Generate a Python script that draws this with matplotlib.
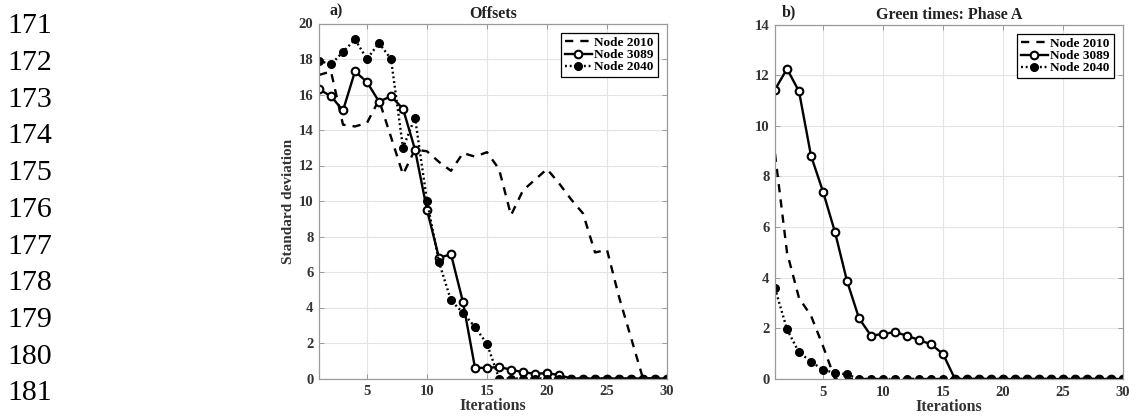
import matplotlib
matplotlib.use("Agg")
import matplotlib.pyplot as plt
import numpy as np

# ---------------- data ----------------
iterations = list(range(1, 31))

offsets_2010 = [17.1, 17.3, 14.3, 14.2, 14.4, 15.7, 13.6, 11.5, 12.9, 12.8,
                12.2, 11.7, 12.7, 12.5, 12.75, 11.8, 9.2, 10.6, 11.2, 11.8,
                11.0, 10.1, 9.3, 7.1, 7.25, 4.6, 2.3, 0, 0, 0]
offsets_3089 = [16.3, 15.9, 15.1, 17.3, 16.7, 15.6, 15.9, 15.2, 12.9, 9.5,
                6.8, 7.0, 4.3, 0.6, 0.6, 0.65, 0.5, 0.35, 0.27, 0.3,
                0.2, 0, 0, 0, 0, 0, 0, 0, 0, 0]
offsets_2040 = [17.9, 17.7, 18.4, 19.1, 18.0, 18.9, 18.0, 13.0, 14.7, 10.0,
                6.55, 4.4, 3.7, 2.9, 1.95, 0, 0, 0, 0, 0,
                0, 0, 0, 0, 0, 0, 0, 0, 0, 0]

green_2010 = [8.9, 5.0, 3.2, 2.5, 1.3, 0, 0, 0, 0, 0,
              0, 0, 0, 0, 0, 0, 0, 0, 0, 0,
              0, 0, 0, 0, 0, 0, 0, 0, 0, 0]
green_3089 = [11.43, 12.25, 11.36, 8.82, 7.4, 5.8, 3.87, 2.4, 1.71, 1.78,
              1.85, 1.71, 1.54, 1.37, 0.99, 0, 0, 0, 0, 0,
              0, 0, 0, 0, 0, 0, 0, 0, 0, 0]
green_2040 = [3.58, 1.96, 1.05, 0.69, 0.36, 0.25, 0.18, 0, 0, 0,
              0, 0, 0, 0, 0, 0, 0, 0, 0, 0,
              0, 0, 0, 0, 0, 0, 0, 0, 0, 0]

series_labels = ["Node 2010", "Node 3089", "Node 2040"]
panel_titles = ["Offsets", "Green times: Phase A"]
panel_letters = ["a)", "b)"]
x_label = "Iterations"
y_label = "Standard deviation"
x_ticks = [5, 10, 15, 20, 25, 30]
line_numbers = [str(n) for n in range(171, 182)]

# ---------------- styling ----------------
W, H = 1138, 417
fig = plt.figure(figsize=(W / 100, H / 100), dpi=100)
fig.patch.set_facecolor("white")

serif = ["Liberation Serif", "DejaVu Serif"]

def px_rect(x0, y0, x1, y1):
    return [x0 / W, 1 - y1 / H, (x1 - x0) / W, (y1 - y0) / H]

ax1 = fig.add_axes(px_rect(319, 23.5, 667, 378.5))
ax2 = fig.add_axes(px_rect(775, 24.5, 1123, 379))

def style_axes(ax, ymax, title, letter, letter_x):
    ax.set_xlim(1, 30)
    ax.set_ylim(0, ymax)
    ax.set_xticks(x_ticks)
    ax.set_yticks(np.arange(0, ymax + 0.1, 2))
    ax.grid(True, color="#e4e4e4", linewidth=0.8)
    ax.set_axisbelow(True)
    for sp in ax.spines.values():
        sp.set_color("#9a9a9a")
        sp.set_linewidth(0.9)
    ax.tick_params(direction="in", length=3.5, width=0.7, color="#9a9a9a",
                   top=True, right=True, pad=4)
    for lab in ax.get_xticklabels() + ax.get_yticklabels():
        lab.set_fontfamily(serif)
        lab.set_fontweight("bold")
        lab.set_fontsize(10.5)
        lab.set_color("#333333")
    ax.tick_params(axis="x", pad=5)
    ax.set_title(title, fontfamily=serif, fontweight="bold", fontsize=11.5,
                 pad=4, color="#222222")
    ax.text(letter_x, 1.012, letter, transform=ax.transAxes, fontfamily=serif,
            fontweight="bold", fontsize=11.5, va="bottom", ha="left", color="#222222")
    ax.set_xlabel(x_label, fontfamily=serif, fontweight="bold", fontsize=11.5,
                  labelpad=0, color="#333333")

def plot_series(ax, s2010, s3089, s2040):
    ax.plot(iterations, s2010, color="black", linewidth=1.7,
            linestyle=(0, (3.5, 3)), label=series_labels[0])
    ax.plot(iterations, s3089, color="black", linewidth=1.7, linestyle="-",
            marker="o", markersize=5.5, markerfacecolor="white",
            markeredgewidth=1.5, markeredgecolor="black", label=series_labels[1])
    ax.plot(iterations, s2040, color="black", linewidth=1.7,
            linestyle=(0, (0.8, 1.2)), marker="o", markersize=5.5,
            markerfacecolor="black", markeredgecolor="black",
            label=series_labels[2])
    leg = ax.legend(loc="upper right", prop={"family": serif, "weight": "bold",
                                             "size": 9.5},
                    frameon=True, fancybox=False, edgecolor="black",
                    framealpha=1, labelspacing=0.0, handlelength=2.0,
                    handletextpad=0.2, borderpad=0.3, borderaxespad=0.7,
                    numpoints=1)
    leg.get_frame().set_linewidth(0.9)

plot_series(ax1, offsets_2010, offsets_3089, offsets_2040)
plot_series(ax2, green_2010, green_3089, green_2040)
style_axes(ax1, 20, panel_titles[0], panel_letters[0], 0.03)
style_axes(ax2, 14, panel_titles[1], panel_letters[1], 0.02)
ax1.set_ylabel(y_label, fontfamily=serif, fontweight="bold", fontsize=11,
               labelpad=3, color="#333333")

# line numbers on the left margin
for i, t in enumerate(line_numbers):
    base = 33.3 + i * 36.7
    fig.text(7 / W, 1 - base / H, t, fontfamily=serif, fontsize=21.5,
             va="baseline", ha="left", color="black")

fig.savefig("out.png", dpi=100, facecolor="white")
